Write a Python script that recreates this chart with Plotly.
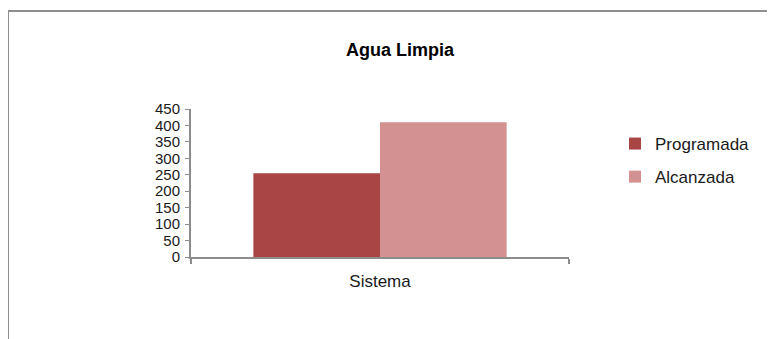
import plotly.graph_objects as go

categories = ["Sistema"]
series_names = ["Programada", "Alcanzada"]
programada = [255]
alcanzada = [410]
colors = ["#A94645", "#D39191"]
y_ticks = [0, 50, 100, 150, 200, 250, 300, 350, 400, 450]

# page offset (body margin) in the browser
O = 8
W, H = 775, 339
L, R, T, B = 191 - O, W - (569 - O), 109 - O, H - (257 - O)
plot_w = W - L - R
plot_h = H - T - B

def px_to_paper_x(px):
    return (px - O - L) / plot_w

def px_to_paper_y(py):
    return (H - B - (py - O)) / plot_h

fig = go.Figure()
for i, (name, vals, col) in enumerate(zip(series_names, [programada, alcanzada], colors)):
    fig.add_trace(go.Bar(x=categories, y=vals, name=name, legendgroup=f"g{i}",
                         marker=dict(color=col, line=dict(width=0))))

font_family = "Liberation Sans, Arial, sans-serif"

fig.update_layout(
    width=W, height=H,
    margin=dict(l=L, r=R, t=T, b=B, pad=0),
    paper_bgcolor="white", plot_bgcolor="white",
    barmode="group", bargap=0.33, bargroupgap=0,
    font=dict(family=font_family, size=17, color="#1a1a1a"),
    title=dict(text="<b>Agua Limpia</b>", x=px_to_paper_x(400), xref="paper",
               y=1 - (50 - O) / H, yref="container", xanchor="center", yanchor="middle",
               font=dict(family=font_family, size=18, color="#000000")),
    showlegend=True,
    legend=dict(x=px_to_paper_x(615), xanchor="left", y=px_to_paper_y(126), yanchor="top",
                font=dict(family=font_family, size=17, color="#1a1a1a"),
                bgcolor="rgba(0,0,0,0)", tracegroupgap=8, traceorder="grouped"),
    xaxis=dict(type="category", showline=True, linecolor="#8c8c8c", linewidth=2,
               ticks="outside", tickson="boundaries", ticklen=5, tickcolor="#8c8c8c",
               tickwidth=2, showgrid=False, zeroline=False, ticklabelstandoff=8),
    yaxis=dict(range=[0, 450], tickvals=y_ticks, showline=True, linecolor="#8c8c8c",
               linewidth=2, ticks="outside", ticklen=4, tickcolor="#8c8c8c", tickwidth=1,
               showgrid=False, zeroline=False, ticklabelstandoff=2,
               tickfont=dict(family=font_family, size=15, color="#1a1a1a")),
    shapes=[dict(type="rect", xref="paper", yref="paper",
                 x0=px_to_paper_x(8), x1=px_to_paper_x(820),
                 y0=px_to_paper_y(360), y1=px_to_paper_y(11),
                 line=dict(color="#8f8f8f", width=2), fillcolor="rgba(0,0,0,0)", layer="below")],
)

fig.write_html("out.html")
